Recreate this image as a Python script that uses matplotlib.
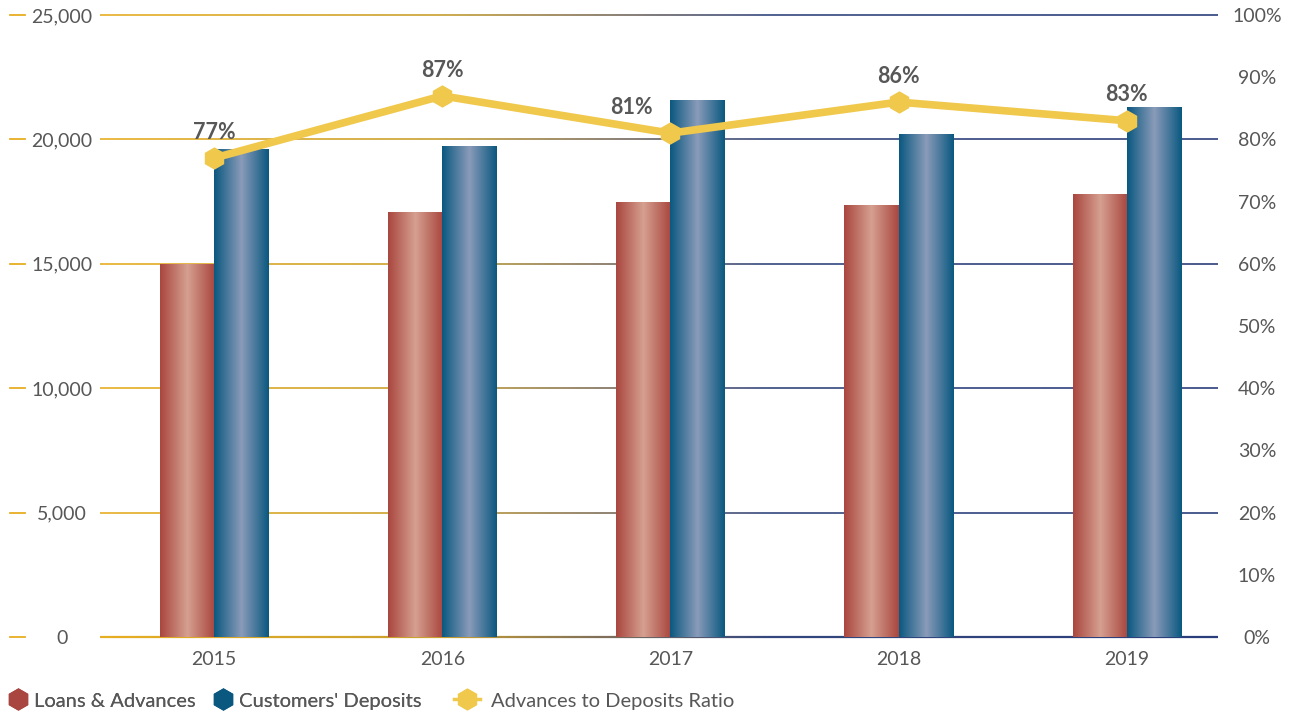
import numpy as np
import matplotlib
matplotlib.use("Agg")
import matplotlib.pyplot as plt
from matplotlib.collections import LineCollection
from matplotlib.colors import LinearSegmentedColormap
from matplotlib.lines import Line2D
from matplotlib.transforms import blended_transform_factory

plt.rcParams['font.family'] = ['Lato', 'DejaVu Sans']

years = ["2015", "2016", "2017", "2018", "2019"]
loans = [15000, 17100, 17500, 17350, 17800]
deposits = [19600, 19750, 21600, 20200, 21300]
ratio = [77, 87, 81, 86, 83]
left_ticks = [0, 5000, 10000, 15000, 20000, 25000]
right_ticks = [0, 10, 20, 30, 40, 50, 60, 70, 80, 90, 100]

TEXT = "#575757"
RED_EDGE, RED_MID = "#A9463F", "#D5A090"
BLUE_EDGE, BLUE_MID = "#0A5880", "#8A9BB9"
GOLD = "#F0C84C"

fig = plt.figure(figsize=(12.94, 7.14), dpi=100)
ax = fig.add_axes([100 / 1294, 77 / 714, 1118 / 1294, 622 / 714])
ax2 = ax.twinx()

x = np.arange(len(years))
w = 0.237
xmin, xmax = -0.5, 4.4

# gridlines fade from gold on the left to navy on the right
grid_cmap = LinearSegmentedColormap.from_list(
    "grid", [(0, "#E6AE22"), (0.3, "#C9A02E"), (0.45, "#7E6E5A"),
             (0.6, "#33477E"), (1, "#2B3E7C")])
xs = np.linspace(xmin, xmax, 300)
for yv in left_ticks:
    pts = np.column_stack([xs, np.full_like(xs, yv)])
    segs = np.stack([pts[:-1], pts[1:]], axis=1)
    lc = LineCollection(segs, cmap=grid_cmap, linewidths=1.6 if yv == 0 else 1.2,
                        zorder=1, clip_on=False)
    lc.set_array(np.linspace(0, 1, len(segs)))
    ax.add_collection(lc)


def gradient_bars(xpos, heights, edge, mid):
    bars = ax.bar(xpos, heights, width=w, color=edge, zorder=2, linewidth=0)
    cmap = LinearSegmentedColormap.from_list("b", [edge, mid, edge])
    grad = np.linspace(0, 1, 256).reshape(1, -1)
    for b in bars:
        x0, y0 = b.get_x(), b.get_y()
        im = ax.imshow(grad, cmap=cmap, aspect="auto", zorder=3,
                       extent=(x0, x0 + b.get_width(), y0, y0 + b.get_height()))
        im.set_clip_path(b)
    return bars


gradient_bars(x - w / 2, loans, RED_EDGE, RED_MID)
gradient_bars(x + w / 2, deposits, BLUE_EDGE, BLUE_MID)

ax.set_xlim(xmin, xmax)
ax.set_ylim(0, 25000)
ax.set_xticks(x)
ax.set_xticklabels(years)
ax.set_yticks(left_ticks)
ax.set_yticklabels([f"{v:,}" for v in left_ticks])
ax.tick_params(axis="x", length=0, pad=10, labelsize=14, labelcolor=TEXT)
ax.tick_params(axis="y", length=0, pad=27.5, labelsize=14, labelcolor=TEXT)
for lbl in ax.get_yticklabels():
    lbl.set_horizontalalignment("center")
for s in ax.spines.values():
    s.set_visible(False)

# short gold dashes left of the value labels
tr = blended_transform_factory(ax.transAxes, ax.transData)
for yv in left_ticks:
    ax.plot([-90 / 1118, -75 / 1118], [yv, yv], transform=tr, color="#E6AE22",
            lw=1.3, clip_on=False)

# ratio line on the secondary axis
ax2.plot(x, ratio, color=GOLD, lw=5.5, marker="h", markersize=15, zorder=5,
         solid_joinstyle="round")
label_shift = [0, 0, -28, 0, 0]
for xi, r, dx in zip(x, ratio, label_shift):
    ax2.annotate(f"{r}%", (xi, r), xytext=(dx, 11), textcoords="offset points",
                 ha="center", va="bottom", fontsize=15.5, fontweight="bold", color=TEXT)
ax2.set_ylim(0, 100)
ax2.set_yticks(right_ticks)
ax2.set_yticklabels([f"{v}%" for v in right_ticks])
ax2.tick_params(axis="y", length=0, pad=28, labelsize=14, labelcolor=TEXT)
for lbl in ax2.get_yticklabels():
    lbl.set_horizontalalignment("center")
for s in ax2.spines.values():
    s.set_visible(False)

bar_handles = [
    Line2D([], [], ls="none", marker="h", markersize=15, color=RED_EDGE),
    Line2D([], [], ls="none", marker="h", markersize=15, color=BLUE_EDGE),
]
leg1 = fig.legend(bar_handles, ["Loans & Advances", "Customers' Deposits"],
                  loc="lower left", bbox_to_anchor=(1 / 1294, -0.005), ncol=2,
                  frameon=False, fontsize=14.5, labelcolor=TEXT, handlelength=0.9,
                  handletextpad=0.35, columnspacing=0.9, borderaxespad=0.0)
line_handle = Line2D([], [], color=GOLD, lw=2.5, marker="h", markersize=15)
fig.legend([line_handle], ["Advances to Deposits Ratio"],
           loc="lower left", bbox_to_anchor=(446 / 1294, -0.005), frameon=False,
           fontsize=14.5, labelcolor=TEXT, handlelength=1.3, handletextpad=0.55,
           borderaxespad=0.0)
fig.add_artist(leg1)

fig.savefig("out.png", dpi=100)
